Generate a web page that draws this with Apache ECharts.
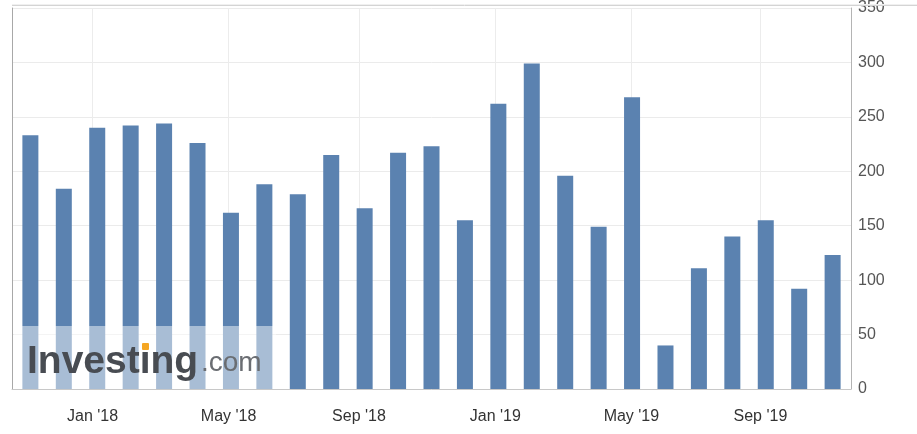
<!DOCTYPE html>
<html><head><meta charset="utf-8">
<script src="https://cdn.jsdelivr.net/npm/echarts@6/dist/echarts.min.js"></script>
<style>html,body{margin:0;padding:0;background:#fff}#c{width:917px;height:434px}</style>
</head><body><div id="c"></div>
<script>
const categories = ['Nov 2017','Dec 2017','Jan 2018','Feb 2018','Mar 2018','Apr 2018','May 2018','Jun 2018','Jul 2018','Aug 2018','Sep 2018','Oct 2018','Nov 2018','Dec 2018','Jan 2019','Feb 2019','Mar 2019','Apr 2019','May 2019','Jun 2019','Jul 2019','Aug 2019','Sep 2019','Oct 2019','Nov 2019'];
const values = [233,184,240,242,244,226,162,188,179,215,166,217,223,155,262,299,196,149,268,40,111,140,155,92,123];
const tickLabels = ["Jan '18","May '18","Sep '18","Jan '19","May '19","Sep '19"];
const tickPositions = [1.86,5.93,9.83,13.91,17.98,21.84];
const yTicks = [0,50,100,150,200,250,300,350];

const chart = echarts.init(document.getElementById('c'), null, {renderer:'canvas'});
const font = 'Liberation Sans, Arial, sans-serif';
chart.setOption({
  animation: false,
  grid: {left: 12, right: 66, top: 6, bottom: 45, containLabel: false},
  xAxis: {
    type: 'value', min: -0.55, max: 24.55,
    axisLine: {show: true, onZero: false, lineStyle: {color: '#c8c8c8', width: 1}},
    axisTick: {show: false, customValues: tickPositions},
    axisLabel: {
      customValues: tickPositions, margin: 20,
      color: '#333', fontSize: 16, fontFamily: font,
      formatter: v => { const k = tickPositions.indexOf(v); return k >= 0 ? tickLabels[k] : ''; }
    },
    splitLine: {show: true, lineStyle: {color: '#ececec', width: 1}}
  },
  yAxis: [{
    type: 'value', position: 'right', min: yTicks[0], max: yTicks[yTicks.length-1], interval: 50,
    axisLine: {show: true, onZero: false, lineStyle: {color: '#b4b4b4', width: 1}},
    axisTick: {show: false},
    axisLabel: {color: '#555', fontSize: 16, fontFamily: font, margin: 7},
    splitLine: {show: true, lineStyle: {color: '#ebebeb', width: 1}}
  },{
    type: 'value', position: 'left', min: 0, max: 350,
    axisLine: {show: true, onZero: false, lineStyle: {color: '#a8a8a8', width: 1}},
    axisTick: {show: false}, axisLabel: {show: false}, splitLine: {show: false}
  }],
  series: [{
    type: 'bar', yAxisIndex: 0,
    name: 'value',
    data: values.map((v, i) => [i, v]),
    barWidth: 16,
    itemStyle: {color: '#5b82b0'}
  }],
  graphic: [
    {type: 'line', shape: {x1: 12, y1: 5.5, x2: 917, y2: 5.5}, style: {stroke: '#d4d4d4', lineWidth: 1}, z: 10},
    {type: 'line', shape: {x1: 12, y1: 4.5, x2: 917, y2: 4.5}, style: {stroke: '#f0f0f0', lineWidth: 1}, z: 10},
    {type: 'rect', shape: {x: 14, y: 326, width: 262, height: 63}, style: {fill: 'rgba(255,255,255,0.47)'}, z: 20},
    {type: 'text', x: 27, y: 343, style: {text: 'Investing', font: 'bold 39px "Liberation Sans", Arial, sans-serif', fill: '#484c52'}, z: 21},
    {type: 'text', x: 201, y: 349, style: {text: '.com', font: '28px "Liberation Sans", Arial, sans-serif', fill: '#6a6d72'}, z: 21},
    {type: 'rect', shape: {x: 142, y: 343, width: 7, height: 7, r: 1}, style: {fill: '#f5a623'}, z: 22}
  ]
});
</script></body></html>
